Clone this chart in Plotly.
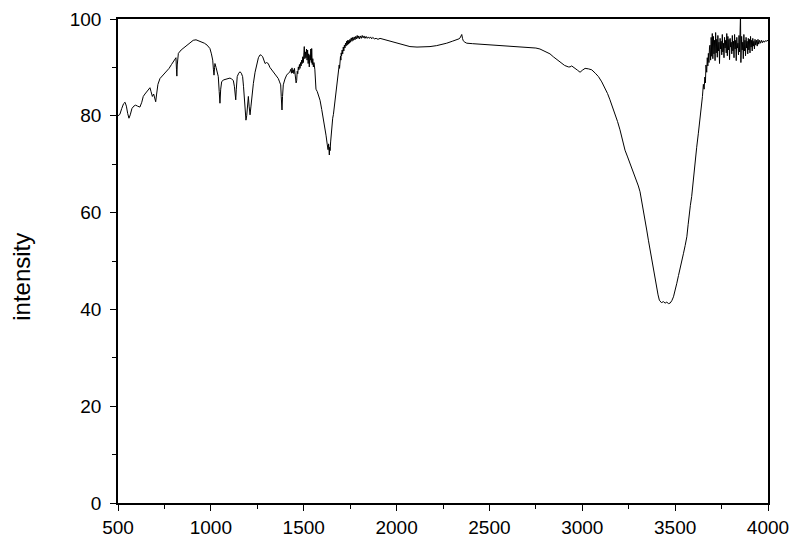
import plotly.graph_objects as go

# IR-style spectrum, split into segments
wn_fingerprint = [500, 510, 520, 530, 538, 545, 552, 559, 566, 575, 585, 595, 605, 618, 628, 636,
                  645, 655, 665, 672, 678, 685, 692, 698, 703, 708, 715, 726, 740, 752, 762, 775,
                  788, 798, 808, 812, 815, 817, 819, 825, 840, 855, 870, 885, 905, 920, 935, 951,
                  965, 980, 995, 1003, 1010, 1014, 1017, 1020, 1022, 1028, 1035, 1040, 1045, 1049,
                  1053, 1058, 1067, 1080, 1095, 1103, 1112, 1121, 1127, 1131, 1134, 1137, 1142,
                  1150, 1157, 1164, 1171, 1176, 1181, 1185, 1189, 1193, 1197, 1202, 1206, 1211,
                  1216, 1222, 1229, 1238, 1247, 1256, 1265, 1272, 1279, 1285, 1292, 1300, 1309,
                  1318, 1328, 1336, 1345, 1354, 1363, 1370, 1376, 1379, 1383, 1386, 1390, 1399,
                  1408, 1417, 1426]
t_fingerprint = [80.0, 80.3, 81.5, 82.5, 82.8, 82.0, 80.5, 79.5, 80.2, 81.5, 82.0, 82.2, 82.0, 81.8,
                 82.8, 84.0, 84.5, 85.0, 85.6, 85.8, 85.0, 84.0, 84.5, 83.5, 82.9, 84.5, 86.5, 87.7,
                 88.3, 88.8, 89.2, 89.8, 90.6, 91.2, 91.7, 92.0, 89.5, 88.2, 90.5, 92.9, 93.6, 94.1,
                 94.6, 95.0, 95.6, 95.7, 95.5, 95.3, 95.0, 94.6, 93.9, 92.8, 91.5, 89.5, 88.4, 90.0,
                 90.8, 90.0, 88.8, 88.1, 85.0, 82.6, 85.5, 87.0, 87.4, 87.6, 87.8, 87.8, 87.6, 87.3,
                 86.0, 84.0, 83.3, 85.5, 88.1, 88.8, 89.1, 88.8, 88.1, 86.0, 82.5, 80.0, 79.1, 80.0,
                 82.5, 84.0, 82.0, 80.2, 82.0, 84.8, 86.7, 89.0, 90.8, 92.0, 92.6, 92.5, 92.2, 91.6,
                 90.8, 91.0, 90.8, 90.0, 89.5, 89.2, 88.8, 88.3, 87.7, 87.0, 86.4, 84.0, 81.2, 84.0,
                 86.4, 87.6, 88.4, 88.8, 89.1]

wn_amide = [1430, 1434, 1437, 1440, 1444, 1447, 1450, 1453, 1456, 1459, 1462, 1465, 1468, 1471,
            1474, 1477, 1480, 1483, 1486, 1489, 1492, 1495, 1498, 1501, 1503, 1506, 1509, 1512,
            1515, 1518, 1521, 1524, 1527, 1530, 1533, 1536, 1538, 1541, 1543, 1546, 1549, 1552,
            1555, 1557, 1560, 1562, 1566, 1573, 1580, 1588, 1597, 1606, 1613, 1620, 1627, 1631,
            1634, 1636, 1638, 1640, 1642, 1645, 1648, 1651, 1656, 1660, 1664, 1669, 1675, 1681,
            1684, 1688, 1691, 1693, 1695, 1698, 1700, 1702, 1704, 1707, 1710, 1713, 1716, 1719,
            1722, 1725, 1728, 1731, 1734, 1737, 1740, 1743, 1746, 1749, 1752, 1756, 1760, 1764,
            1768, 1772, 1776, 1780, 1784, 1788, 1792, 1796, 1800, 1805, 1810, 1815, 1820, 1825,
            1830, 1836, 1842, 1848, 1854, 1860, 1866, 1872, 1880, 1890, 1900]
t_amide = [89.6, 88.8, 89.9, 88.9, 89.5, 88.7, 89.8, 89.0, 88.2, 86.8, 87.3, 89.2, 88.7, 90.1,
           89.5, 90.6, 89.8, 91.0, 90.3, 91.5, 90.8, 92.2, 91.0, 93.0, 94.3, 91.8, 93.2, 92.0,
           93.8, 91.5, 93.6, 90.8, 92.8, 90.1, 92.5, 91.5, 93.8, 91.0, 93.9, 90.6, 91.8, 90.1,
           91.0, 90.5, 89.5, 87.7, 85.5, 85.0, 84.2, 83.2, 81.3, 79.5, 77.5, 76.0, 74.0, 73.0,
           74.2, 72.5, 71.9, 73.5, 72.8, 74.6, 76.0, 78.1, 79.5, 80.3, 81.5, 82.9, 85.0, 87.0,
           88.5, 89.5, 90.5, 89.8, 91.2, 92.3, 91.5, 93.0, 92.4, 93.6, 92.8, 94.2, 93.4, 94.6,
           94.0, 95.0, 94.4, 95.4, 94.6, 95.6, 94.8, 95.6, 95.0, 95.8, 95.2, 96.1, 95.4, 96.2,
           95.6, 96.3, 95.7, 96.4, 95.9, 96.6, 96.0, 96.5, 95.9, 96.5, 96.0, 96.6, 96.1, 96.5,
           96.0, 96.4, 96.0, 96.3, 96.0, 96.3, 95.9, 96.2, 95.9, 96.0, 95.8]

wn_mid = [1911, 1930, 1947, 1965, 1990, 2019, 2045, 2072, 2110, 2144, 2180, 2216, 2245, 2270,
          2300, 2324, 2336, 2342, 2347, 2351, 2355, 2359, 2368, 2378, 2410, 2449, 2500, 2539,
          2580, 2628, 2680, 2719, 2750, 2772, 2790, 2808, 2826, 2844, 2866, 2889, 2905, 2925,
          2934, 2943, 2952, 2961, 2975, 2988, 3000, 3015, 3033, 3051, 3070, 3087]
t_mid = [96.0, 95.8, 95.6, 95.4, 95.1, 94.8, 94.5, 94.3, 94.2, 94.2, 94.3, 94.5, 94.7, 95.0,
         95.4, 95.7, 95.9, 96.1, 96.5, 96.8, 96.0, 95.5, 95.2, 95.0, 94.9, 94.8, 94.7, 94.6,
         94.5, 94.4, 94.3, 94.2, 94.0, 93.8, 93.5, 93.2, 92.8, 92.2, 91.5, 90.8, 90.4, 90.1,
         90.1, 90.3, 90.1, 89.8, 89.4, 89.0, 89.4, 89.8, 89.7, 89.5, 88.8, 88.1]

wn_oh = [3105, 3123, 3136, 3149, 3162, 3176, 3190, 3203, 3216, 3230, 3244, 3257, 3275, 3293,
         3302, 3311, 3320, 3329, 3338, 3347, 3356, 3365, 3374, 3383, 3392, 3401, 3408, 3415,
         3426, 3437, 3446, 3455, 3464, 3473, 3482, 3491, 3500, 3509, 3518, 3527, 3536, 3545,
         3554, 3563, 3570, 3575, 3582, 3589, 3598, 3607, 3616, 3625, 3634, 3640, 3643, 3647,
         3652, 3656, 3660, 3663, 3666, 3670, 3673, 3676, 3679]
t_oh = [87.0, 85.7, 84.6, 83.3, 82.0, 80.5, 78.8, 77.1, 75.0, 72.9, 71.5, 70.2, 68.5, 66.7,
        65.5, 64.3, 62.5, 60.5, 58.5, 56.4, 54.3, 52.3, 50.2, 48.1, 46.2, 44.7, 43.0, 41.9,
        41.4, 41.6, 41.3, 41.5, 41.2, 41.3, 41.8, 42.6, 43.8, 45.4, 47.0, 48.8, 50.0, 51.6,
        53.2, 55.0, 57.5, 59.9, 61.5, 63.3, 67.0, 70.9, 73.5, 76.4, 79.5, 80.5, 81.9, 84.0,
        86.5, 85.5, 88.0, 86.8, 90.5, 89.0, 92.0, 90.3, 92.9]

wn_high = [3682, 3685, 3688, 3691, 3694, 3697, 3700, 3703, 3706, 3709, 3712, 3715, 3718, 3721,
           3724, 3727, 3730, 3733, 3736, 3739, 3742, 3745, 3748, 3751, 3754, 3757, 3760, 3763,
           3766, 3769, 3772, 3775, 3778, 3781, 3784, 3787, 3790, 3793, 3796, 3799, 3802, 3805,
           3808, 3811, 3814, 3817, 3820, 3823, 3826, 3829, 3832, 3835, 3838, 3841, 3844, 3847,
           3850, 3852, 3854, 3856, 3858, 3861, 3864, 3867, 3870, 3873, 3876, 3879, 3882, 3885,
           3888, 3891, 3894, 3897, 3900, 3903, 3906, 3909, 3912, 3915, 3918, 3921, 3924, 3927,
           3930, 3934, 3938, 3942, 3946, 3950, 3955, 3960, 3965, 3970, 3975, 3980, 3985, 3990,
           3995, 4000]
t_high = [91.0, 94.2, 94.6, 91.5, 96.2, 92.3, 97.0, 91.8, 96.4, 92.8, 95.6, 91.4, 97.2, 93.0,
          95.8, 92.1, 96.6, 93.4, 95.2, 90.8, 96.0, 93.8, 95.4, 92.6, 96.8, 93.2, 95.0, 92.0,
          96.2, 94.0, 95.6, 93.0, 97.0, 92.4, 96.4, 93.6, 95.8, 91.6, 96.0, 94.2, 95.2, 92.8,
          96.6, 93.4, 95.4, 92.0, 96.8, 93.8, 95.6, 91.4, 96.2, 94.0, 95.0, 92.6, 96.6, 93.2,
          95.8, 101.0, 91.0, 94.0, 96.4, 93.6, 95.2, 91.8, 96.8, 93.4, 95.6, 92.4, 96.2, 94.0,
          95.4, 92.8, 96.0, 93.6, 95.8, 93.0, 96.4, 94.2, 95.6, 93.4, 96.0, 94.4, 95.4, 93.8,
          95.8, 94.6, 95.6, 94.4, 95.8, 94.8, 95.6, 95.0, 95.6, 95.1, 95.5, 95.2, 95.5, 95.4,
          95.6, 95.6]

wn = wn_fingerprint + wn_amide + wn_mid + wn_oh + wn_high
intensity = t_fingerprint + t_amide + t_mid + t_oh + t_high

FONT = "Arial, Liberation Sans, sans-serif"

fig = go.Figure(go.Scatter(x=wn, y=intensity, mode="lines",
                           line=dict(color="black", width=1), showlegend=False))

axis_common = dict(showline=True, linecolor="black", linewidth=1.5, mirror=True,
                   ticks="outside", ticklen=6, tickwidth=1.2, tickcolor="black",
                   showgrid=False, zeroline=False, automargin=False,
                   tickfont=dict(family=FONT, size=19, color="black"))

fig.update_xaxes(range=[500, 4000], dtick=500, tick0=500,
                 minor=dict(dtick=250, ticks="outside", ticklen=4, tickcolor="black",
                            tickwidth=1, showgrid=False),
                 **axis_common)
fig.update_yaxes(range=[0, 100], dtick=20, tick0=0, ticklabelstandoff=5,
                 minor=dict(dtick=10, ticks="outside", ticklen=4, tickcolor="black",
                            tickwidth=1, showgrid=False),
                 **axis_common)

# y label placed as a rotated annotation (sits slightly below the axis centre)
fig.add_annotation(text="intensity", xref="paper", yref="paper", x=-0.148, y=0.467,
                   xanchor="center", yanchor="middle", textangle=-90, showarrow=False,
                   font=dict(family=FONT, size=24, color="black"))

# page body adds an 8px offset, so margins are trimmed to land the frame at 118..768 / 19..503
fig.update_layout(width=800, height=548,
                  margin=dict(l=110, r=40, t=11, b=53),
                  paper_bgcolor="white", plot_bgcolor="white")

fig.write_html("out.html")
